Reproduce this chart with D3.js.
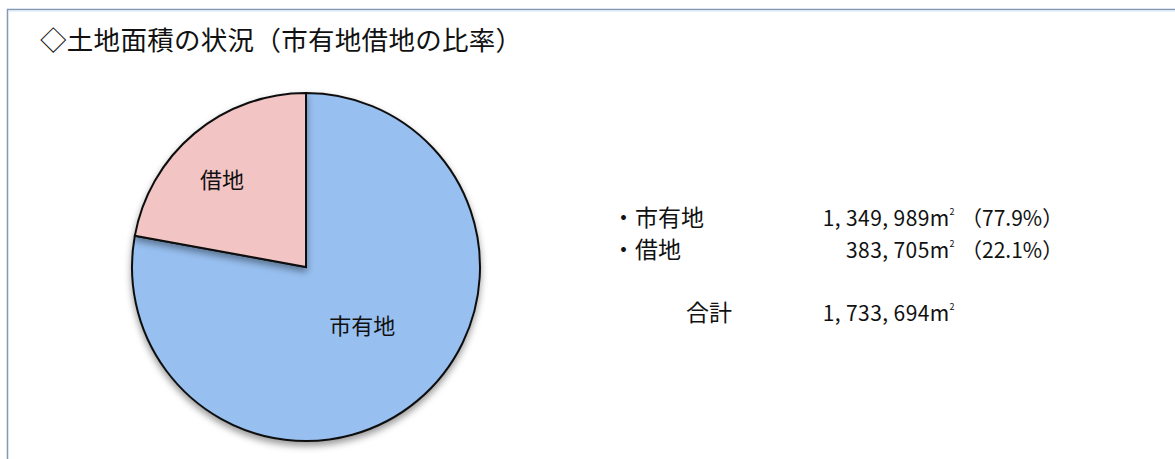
<!DOCTYPE html>
<html lang="ja">
<head>
<meta charset="utf-8">
<script src="https://cdn.jsdelivr.net/npm/d3@7"></script>
<style>
  html, body { margin: 0; padding: 0; background: #fff; }
  svg { display: block; }
  text { font-family: "Noto Sans CJK JP", "Noto Sans", sans-serif; fill: #111; }
</style>
</head>
<body>
<svg id="chart" width="1175" height="459"></svg>
<script>
// Land area by ownership (m²)
const categories = ["市有地", "借地"];
const areas = [1349989, 383705];
const shares = ["77.9%", "22.1%"];
const total = 1733694;
const totalLabel = "合計";
const title = "◇土地面積の状況（市有地借地の比率）";
const colors = ["#97bff0", "#f2c5c4"];

const svg = d3.select("#chart");
const fmt = d3.format(",");
const fmtSpaced = v => fmt(v).replace(/,/g, ", ");

// frame
svg.append("rect")
  .attr("x", 7.5).attr("y", 9.5)
  .attr("width", 1200).attr("height", 500)
  .attr("fill", "#fff")
  .attr("stroke", "#8499b8").attr("stroke-width", 1.5);
svg.append("line")
  .attr("x1", 8.5).attr("x2", 1175).attr("y1", 11).attr("y2", 11)
  .attr("stroke", "#d6e6f5").attr("stroke-width", 1);

// title
svg.append("text")
  .attr("x", 40).attr("y", 50)
  .attr("font-size", 26.5)
  .attr("letter-spacing", 0.3)
  .text(title);

// soft shadow under the pie
const defs = svg.append("defs");
const f = defs.append("filter").attr("id", "shadow")
  .attr("x", "-20%").attr("y", "-20%").attr("width", "140%").attr("height", "140%");
f.append("feDropShadow").attr("dx", 0).attr("dy", 4).attr("stdDeviation", 3.5)
  .attr("flood-color", "#000").attr("flood-opacity", 0.4);

const cx = 306, cy = 267, r = 174;
const g = svg.append("g").attr("transform", `translate(${cx},${cy})`);

// 市有地 clockwise from 12 o'clock, 借地 fills the remainder
const pie = d3.pie().sort(null).value(d => d.v);
const data = categories.map((c, i) => ({ c, v: areas[i], color: colors[i] }));
const arcs = pie(data);
const arc = d3.arc().innerRadius(0).outerRadius(r);

g.selectAll("path.slice")
  .data(arcs)
  .join("path")
  .attr("class", "slice")
  .attr("d", arc)
  .attr("fill", d => d.data.color)
  .attr("stroke", "#111")
  .attr("stroke-width", 2)
  .attr("stroke-linejoin", "miter")
  .attr("filter", "url(#shadow)");

// slice labels, placed at a best-fit radius inside each slice
const labelRadius = [0.465, 0.695];
const labelTurn = -4.2 * Math.PI / 180;
g.selectAll("text.lbl")
  .data(arcs)
  .join("text")
  .attr("class", "lbl")
  .attr("transform", (d, i) => {
    const mid = (d.startAngle + d.endAngle) / 2 + labelTurn;
    const [x, y] = d3.pointRadial(mid, r * labelRadius[i]);
    return `translate(${x},${y})`;
  })
  .attr("text-anchor", "middle")
  .attr("dy", "0.38em")
  .attr("font-size", 22)
  .text(d => d.data.c);

// breakdown text
const rowsY = [226, 258];
const numEnd = 955;
const right = svg.append("g");

function areaText(sel, v) {
  sel.append("tspan").text(fmtSpaced(v) + "m");
  sel.append("tspan").attr("font-size", 9).attr("dy", -11).text("2");
}

categories.forEach((c, i) => {
  right.append("text")
    .attr("x", 612).attr("y", rowsY[i])
    .attr("font-size", 23)
    .text("・" + c);
  const t = right.append("text")
    .attr("x", numEnd).attr("y", rowsY[i])
    .attr("text-anchor", "end")
    .attr("font-size", 21)
    .attr("letter-spacing", 0.4);
  areaText(t, areas[i]);
  right.append("text")
    .attr("x", numEnd + 6).attr("y", rowsY[i])
    .attr("font-size", 21)
    .text("（" + shares[i] + "）");
});

right.append("text")
  .attr("x", 686).attr("y", 321)
  .attr("font-size", 23)
  .text(totalLabel);
const tt = right.append("text")
  .attr("x", numEnd).attr("y", 321)
  .attr("text-anchor", "end")
  .attr("font-size", 21)
  .attr("letter-spacing", 0.4);
areaText(tt, total);
</script>
</body>
</html>
